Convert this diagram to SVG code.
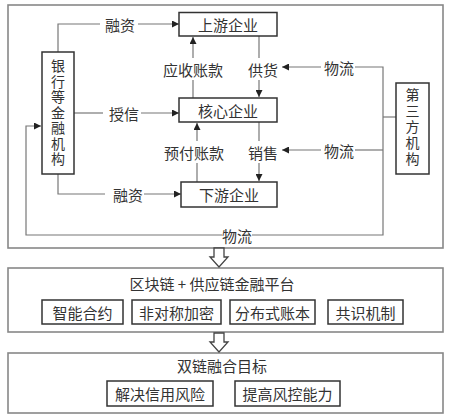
<svg xmlns="http://www.w3.org/2000/svg" width="450" height="419" viewBox="0 0 450 419">
<defs>
<marker id="ah" viewBox="0 0 8 8" refX="8" refY="4" markerWidth="7" markerHeight="7" orient="auto" markerUnits="userSpaceOnUse">
<path d="M0,0 L8,4 L0,8 Z" fill="#222"/>
</marker>
</defs>
<style>
text{font-family:"Noto Sans CJK SC","Noto Sans",sans-serif;font-size:15px;fill:#333;text-anchor:middle;dominant-baseline:central}
text.v{font-size:14px;writing-mode:vertical-rl;dominant-baseline:auto}
.frame{fill:#fff;stroke:#888;stroke-width:1.6}
.node{fill:#fff;stroke:#333;stroke-width:1.5}
.ln{fill:none;stroke:#777;stroke-width:1.2}
.ar{fill:none;stroke:#777;stroke-width:1.2;marker-end:url(#ah)}
.hollow{fill:#fff;stroke:#444;stroke-width:1.3}
</style>
<rect width="450" height="419" fill="#fff"/>
<rect class="frame" x="8" y="5" width="435" height="243"/>
<rect class="frame" x="8" y="268" width="435" height="64"/>
<rect class="frame" x="8" y="353" width="435" height="60"/>

<g id="connectors">
<polyline class="ln" points="58,52 58,24 100,24"/>
<line class="ar" x1="138" y1="24" x2="179" y2="24"/>
<line class="ln" x1="74" y1="113" x2="103" y2="113"/>
<line class="ar" x1="141" y1="113" x2="179" y2="113"/>
<polyline class="ln" points="58,174 58,194 105,194"/>
<line class="ar" x1="144" y1="194" x2="181" y2="194"/>
<line class="ln" x1="193" y1="98" x2="193" y2="80"/>
<line class="ar" x1="193" y1="58" x2="193" y2="37"/>
<line class="ln" x1="259" y1="36" x2="259" y2="58"/>
<line class="ar" x1="259" y1="80" x2="259" y2="97"/>
<line class="ln" x1="197" y1="182" x2="197" y2="163"/>
<line class="ar" x1="197" y1="141" x2="197" y2="123"/>
<line class="ln" x1="259" y1="122" x2="259" y2="141"/>
<line class="ar" x1="259" y1="163" x2="259" y2="181"/>
<polyline class="ln" points="355,67 383,67 383,235 252,235"/>
<line class="ln" x1="383" y1="117" x2="396" y2="117"/>
<line class="ar" x1="321" y1="67" x2="282" y2="67"/>
<line class="ln" x1="383" y1="150" x2="355" y2="150"/>
<line class="ar" x1="321" y1="150" x2="282" y2="150"/>
<polyline class="ar" points="222,235 26,235 26,126 41,126"/>
<path class="hollow" d="M214,248 L224,248 L224,257 L228,257 L219,267 L210,257 L214,257 Z"/>
<path class="hollow" d="M214,333 L224,333 L224,342 L228,342 L219,352 L210,342 L214,342 Z"/>
</g>

<g id="labels">
<text x="120" y="24">融资</text>
<text x="124" y="113">授信</text>
<text x="128" y="194">融资</text>
<text x="193" y="69">应收账款</text>
<text x="263" y="69">供货</text>
<text x="194" y="152">预付账款</text>
<text x="263" y="152">销售</text>
<text x="339" y="67">物流</text>
<text x="339" y="150">物流</text>
<text x="237" y="235">物流</text>
</g>

<g id="upstream">
<rect class="node" x="179" y="12.5" width="98" height="23.5"/>
<text x="228" y="24">上游企业</text>
</g>
<g id="core">
<rect class="node" x="179" y="98" width="98" height="24"/>
<text x="228" y="110">核心企业</text>
</g>
<g id="downstream">
<rect class="node" x="181" y="182" width="96" height="25"/>
<text x="229" y="194.5">下游企业</text>
</g>
<g id="bank">
<rect class="node" x="42" y="52" width="32" height="122"/>
<text class="v" x="58" y="113" letter-spacing="1.5">银行等金融机构</text>
</g>
<g id="thirdparty">
<rect class="node" x="396" y="83" width="33" height="91"/>
<text class="v" x="412.5" y="128" letter-spacing="2">第三方机构</text>
</g>

<g id="platform">
<text x="212" y="283">区块链 + 供应链金融平台</text>
</g>
<g id="smart-contract">
<rect class="node" x="42" y="300" width="81" height="24"/>
<text x="82.5" y="312">智能合约</text>
</g>
<g id="asym-crypto">
<rect class="node" x="132" y="300" width="89" height="24"/>
<text x="176.5" y="312">非对称加密</text>
</g>
<g id="ledger">
<rect class="node" x="230" y="300" width="85" height="24"/>
<text x="272.5" y="312">分布式账本</text>
</g>
<g id="consensus">
<rect class="node" x="328" y="300" width="75" height="24"/>
<text x="365.5" y="312">共识机制</text>
</g>

<g id="goal">
<text x="222" y="365">双链融合目标</text>
</g>
<g id="credit-risk">
<rect class="node" x="107" y="381" width="106" height="25"/>
<text x="160" y="393.5">解决信用风险</text>
</g>
<g id="risk-control">
<rect class="node" x="235" y="381" width="105" height="25"/>
<text x="287.5" y="393.5">提高风控能力</text>
</g>
</svg>
